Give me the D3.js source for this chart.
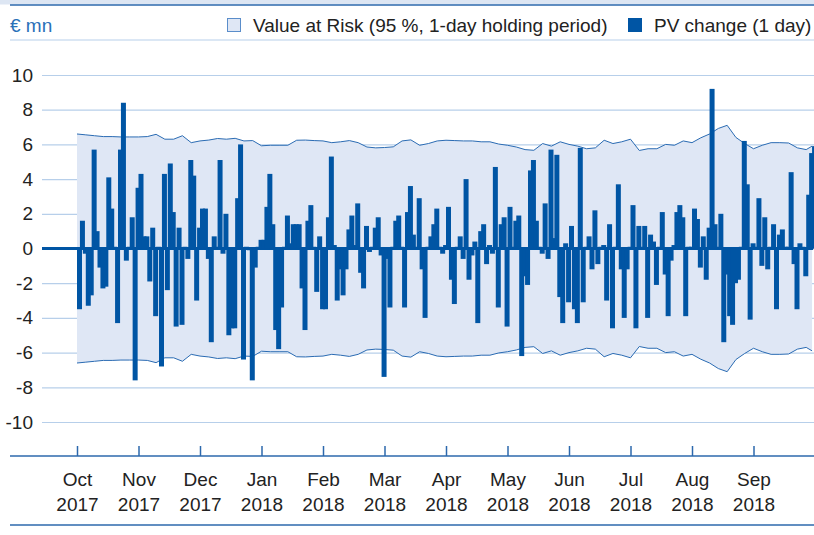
<!DOCTYPE html>
<html>
<head>
<meta charset="utf-8">
<script src="https://cdn.jsdelivr.net/npm/d3@7"></script>
<style>
  body { margin: 0; background: #fff; }
  svg { display: block; font-family: "Liberation Sans", Arial, sans-serif; }
</style>
</head>
<body>
<svg width="814" height="535"></svg>
<script>
// month labels (ticks), 21 trading days per month
const months = ["Oct", "Nov", "Dec", "Jan", "Feb", "Mar", "Apr", "May", "Jun", "Jul", "Aug", "Sep"]
const years = ["2017", "2017", "2017", "2018", "2018", "2018", "2018", "2018", "2018", "2018", "2018", "2018"]
const daysPerMonth = 21
const yTicks = [10, 8, 6, 4, 2, 0, -2, -4, -6, -8, -10]

// PV change (1 day), € mn, one value per trading day
const pvOct = [-3.5, 1.6, -0.3, -3.3, -2.7, 5.7, 1.0, -1.1, -2.3, -2.2, 4.1, 2.3, 0.1, -4.3, 5.7, 8.4, -0.7, 0.1, 1.8, -7.6, 3.5]
const pvNov = [4.3, 0.7, 0.7, -1.9, 1.2, -3.9, 0.1, -6.8, 4.3, -2.4, 4.9, 2.1, -4.5, 1.2, -4.4, 0.1, -0.6, 5.1, 4.2, -3.0, 1.2]
const pvDec = [2.3, 2.3, -0.6, -5.4, 0.7, 0.1, 5.1, -0.3, 2.0, -5.0, -4.6, -4.6, 2.9, 6.0, -6.4, 0.1, -0.1, -7.6, -1.1, 0.1, 0.5]
const pvJan = [0.5, 2.4, 4.3, 1.4, -4.7, -5.8, -3.4, 0.1, 1.9, 0.3, 1.4, 1.4, 1.4, -2.3, -4.7, 1.6, 2.5, 0.1, -2.5, 0.7, -3.5]
const pvFeb = [-3.5, 1.8, 5.3, 0.2, -3.0, -1.2, -2.7, -1.2, 1.1, 1.9, 0.2, 2.6, -1.4, -2.3, 1.3, -0.2, 0.1, 1.2, 1.8, -0.4, -7.4]
const pvMar = [-0.6, -3.4, 0.1, 1.6, 1.9, 0.1, -3.4, 2.1, 3.6, 0.8, 0.1, 2.9, -1.2, -4.0, 0.1, 0.7, 1.4, 2.3, 0.1, -0.3, 0.2]
const pvApr = [2.4, -1.8, -3.2, 0.1, 0.7, -0.6, 4.0, -1.8, -0.4, 0.4, -4.3, 1.0, 1.4, -0.9, 0.2, -0.3, 4.7, -3.4, 1.4, 1.8, -4.5]
const pvMay = [2.4, 0.1, 1.6, 1.9, -6.2, -1.6, -2.1, 4.5, 5.1, 1.6, 0.1, -0.3, 2.6, -0.6, 5.7, 0.6, 5.4, -2.8, -4.3, 0.3, -3.1]
const pvJun = [1.3, -3.5, -4.3, 5.8, -3.1, 0.1, 0.7, -1.2, 2.2, -0.9, 0.1, 0.2, -3.0, 1.4, -4.6, 0.1, 3.7, -1.2, -4.0, -1.2, 0.1]
const pvJul = [2.5, -4.6, 1.3, 0.1, 1.3, -4.0, 0.8, 0.4, -2.1, 0.1, 2.1, -1.5, -3.9, -0.7, 0.2, 2.1, 2.5, 1.8, -3.9, 0.1, 0.1]
const pvAug = [2.3, 1.7, -1.1, 0.7, -1.8, 1.2, 9.2, 1.4, 0.1, 2.0, -5.4, -1.5, -3.9, -4.4, -2.0, -1.8, 0.1, 6.2, 3.7, -4.1, 0.3]
const pvSep = [0.1, 2.9, -1.0, 1.8, -1.2, 0.1, 1.4, -3.5, 0.8, 1.1, 0.1, 0.1, 4.4, -0.9, -3.5, 0.3, 0.1, -1.6, 3.1, 5.5, 5.9]

// Value at Risk (95 %, 1-day), € mn, read every 3rd trading day
const varDays = [0, 3, 6, 9, 12, 15, 18, 21, 24, 27, 30, 33, 36, 39, 42, 45, 48, 51, 54, 57, 60, 63, 66, 69, 72, 75, 78, 81, 84, 87, 90, 93, 96, 99, 102, 105, 108, 111, 114, 117, 120, 123, 126, 129, 132, 135, 138, 141, 144, 147, 150, 153, 156, 159, 162, 165, 168, 171, 174, 177, 180, 183, 186, 189, 192, 195, 198, 201, 204, 207, 210, 213, 216, 219, 222, 225, 228, 231, 234, 237, 240, 243, 246, 249, 251]
const varValues = [6.6, 6.55, 6.5, 6.45, 6.45, 6.43, 6.43, 6.43, 6.45, 6.58, 6.3, 6.3, 6.5, 6.1, 6.2, 6.25, 6.34, 6.3, 6.35, 6.2, 6.22, 5.92, 5.95, 5.95, 5.95, 6.24, 6.25, 6.22, 6.2, 6.1, 6.15, 6.22, 6.1, 5.85, 5.8, 5.82, 5.86, 6.2, 6.26, 5.95, 6.05, 6.2, 6.24, 6.22, 6.2, 6.2, 6.15, 6.15, 6.02, 5.95, 5.85, 5.7, 5.66, 6.05, 5.9, 6.15, 6.0, 5.9, 5.75, 5.8, 6.24, 6.05, 6.15, 6.3, 5.65, 5.75, 5.75, 6.0, 5.95, 6.2, 6.1, 6.38, 6.6, 6.92, 7.1, 6.4, 6.05, 5.75, 5.95, 6.1, 6.1, 6.08, 5.8, 5.7, 5.9]

const pv = [].concat(pvOct, pvNov, pvDec, pvJan, pvFeb, pvMar, pvApr, pvMay, pvJun, pvJul, pvAug, pvSep)
const varData = varDays.map((d, i) => ({ day: d, v: varValues[i] }))

const dark = '#0055a4'
const light = '#b7cfea'
const fontSize = '19px'

const svg = d3.select('svg')

const x = d3.scaleLinear().domain([0, pv.length]).range([77, 815])
const y = d3.scaleLinear().domain([-10, 10]).range([422, 75])

// top band
svg.append('rect').attr('x', 0).attr('y', 0).attr('width', 814).attr('height', 4.5).attr('fill', '#dde6f3')
svg.append('line').attr('x1', 10).attr('x2', 814).attr('y1', 5).attr('y2', 5).attr('stroke', '#2c68ad').attr('stroke-width', 1.5)

// header
svg.append('text').attr('x', 10).attr('y', 32).attr('fill', '#2a70b8').attr('font-size', fontSize).text('€ mn')

svg.append('rect').attr('x', 227.5).attr('y', 18.5).attr('width', 13).attr('height', 13)
  .attr('fill', '#dfe7f5').attr('stroke', '#5a8dca').attr('stroke-width', 1)
svg.append('text').attr('x', 253).attr('y', 32).attr('fill', '#222').attr('font-size', fontSize)
  .text('Value at Risk (95 %, 1-day holding period)')
svg.append('rect').attr('x', 628).attr('y', 18).attr('width', 14).attr('height', 14).attr('fill', dark)
svg.append('text').attr('x', 654).attr('y', 32).attr('fill', '#222').attr('font-size', fontSize)
  .text('PV change (1 day)')

svg.append('line').attr('x1', 10).attr('x2', 814).attr('y1', 40).attr('y2', 40).attr('stroke', light).attr('stroke-width', 1)

// y axis + grid
function yAxis(g) {
  g.attr('transform', 'translate(42,0)')
    .call(d3.axisLeft(y).tickValues(yTicks).tickSize(0).tickPadding(9).tickFormat(d => d))
    .attr('font-size', fontSize)
    .attr('font-family', null)
  g.select('.domain').remove()
  g.selectAll('.tick text').attr('fill', '#222')
  g.selectAll('.tick line').attr('x2', 772).attr('stroke', light).attr('stroke-width', 1.2)
}
svg.append('g').call(yAxis)

// VaR envelope
const area = d3.area().x(d => x(d.day)).y0(d => y(-d.v)).y1(d => y(d.v))
svg.append('path').datum(varData).attr('d', area).attr('fill', '#dfe7f5')
const upper = d3.line().x(d => x(d.day)).y(d => y(d.v))
const lower = d3.line().x(d => x(d.day)).y(d => y(-d.v))
svg.append('path').datum(varData).attr('d', upper).attr('fill', 'none').attr('stroke', '#2a6bb3').attr('stroke-width', 1)
svg.append('path').datum(varData).attr('d', lower).attr('fill', 'none').attr('stroke', '#2a6bb3').attr('stroke-width', 1)

// zero baseline
svg.append('line').attr('x1', 42).attr('x2', 813).attr('y1', y(0)).attr('y2', y(0)).attr('stroke', dark).attr('stroke-width', 3)

// PV bars
const barW = 5
svg.append('g').attr('fill', dark).selectAll('rect')
  .data(pv)
  .join('rect')
  .attr('x', (d, i) => x(i))
  .attr('y', d => y(Math.max(0, d)))
  .attr('width', barW)
  .attr('height', d => Math.abs(y(d) - y(0)))

// x axis
const monthStarts = months.map((m, i) => i * daysPerMonth)
function xAxis(g) {
  g.attr('transform', 'translate(0,456)')
    .call(d3.axisBottom(x).tickValues(monthStarts).tickSize(-10).tickFormat(''))
  g.select('.domain').remove()
  g.selectAll('.tick line').attr('stroke', '#2c68ad').attr('stroke-width', 1.5)
  g.selectAll('.tick').append('text').attr('y', 30).attr('fill', '#222').attr('font-size', fontSize)
    .attr('text-anchor', 'middle').text((d, i) => months[i])
  g.selectAll('.tick').append('text').attr('y', 55).attr('fill', '#222').attr('font-size', fontSize)
    .attr('text-anchor', 'middle').text((d, i) => years[i])
}
svg.append('g').call(xAxis)
svg.append('line').attr('x1', 10).attr('x2', 814).attr('y1', 456).attr('y2', 456).attr('stroke', '#2c68ad').attr('stroke-width', 1.5)

svg.append('line').attr('x1', 10).attr('x2', 814).attr('y1', 525).attr('y2', 525).attr('stroke', '#2c68ad').attr('stroke-width', 1.5)
</script>
</body>
</html>
